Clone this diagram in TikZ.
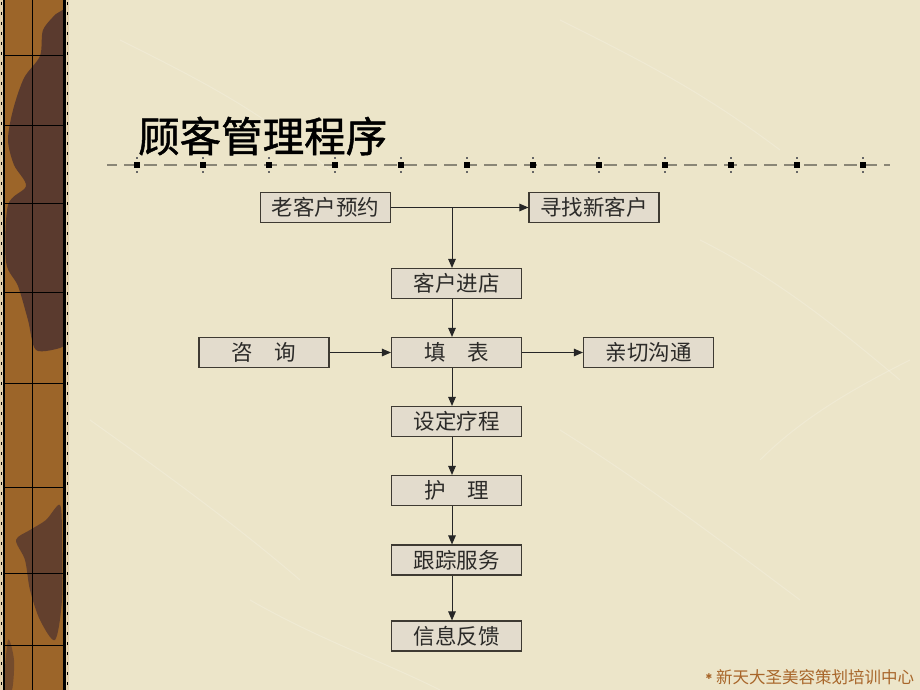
\documentclass[tikz,border=0pt]{standalone}
\usepackage{fontspec}
\newfontfamily\cjk{Noto Sans CJK SC}
\newfontfamily\cjktitle[FakeBold=1.2]{Noto Sans CJK SC}
\newfontfamily\symfont{DejaVu Sans}
\usetikzlibrary{arrows.meta}
\definecolor{bgc}{HTML}{ECE5C9}
\definecolor{boxfill}{HTML}{E3DCCD}
\definecolor{boxline}{HTML}{3E3A32}
\definecolor{txt}{HTML}{2B2A28}
\definecolor{woodA}{HTML}{9C6529}
\definecolor{woodB}{HTML}{5A3A2E}
\definecolor{foot}{HTML}{A8662A}
\definecolor{dashc}{HTML}{8A8676}
\tikzset{
  flowbox/.style={draw=boxline, line width=1.1pt, fill=boxfill, minimum width=130pt,
    minimum height=30pt, inner sep=0pt, text=txt, font=\cjk\fontsize{21.5}{23}\selectfont},
  arr/.style={draw=black!85, line width=1pt, -{Triangle[length=9pt,width=7.5pt]}},
}
\begin{document}
\begin{tikzpicture}[x=1pt,y=-1pt]
\useasboundingbox (0,0) rectangle (920,690);
\fill[bgc] (0,0) rectangle (920,690);
% faint texture streaks
\begin{scope}[white, opacity=0.2, line width=1pt]
\draw (120,40) .. controls (200,80) and (260,110) .. (330,170);
\draw (560,20) .. controls (640,60) and (700,90) .. (780,150);
\draw (700,240) .. controls (780,280) and (840,330) .. (900,380);
\draw (90,420) .. controls (160,470) and (230,520) .. (300,580);
\draw (560,430) .. controls (640,480) and (720,540) .. (800,600);
\draw (250,600) .. controls (320,640) and (380,660) .. (440,690);
\draw (760,460) .. controls (800,420) and (850,390) .. (910,360);
\end{scope}
% left wooden strip
\fill[bgc!80!brown] (0,0) rectangle (69,690);
\fill[woodA] (4,0) rectangle (64,690);
\begin{scope}
\clip (4,0) rectangle (64,690);
\fill[woodB] (66,8) -- plot[smooth] coordinates {(56,14) (43,30) (40,56) (24,78) (13,110) (8,140) (14,165) (26,186) (8,205) (6,262) (18,286) (28,320) (36,350) (60,348)} -- (66,345) -- cycle;
\fill[woodB, opacity=0.85] plot[smooth cycle] coordinates {(60,505) (46,520) (30,530) (16,540) (25,560) (30,590) (40,620) (55,640) (62,600) (62,540)};
\fill[woodB, opacity=0.6] plot[smooth cycle] coordinates {(8,640) (14,660) (12,690) (4,690)};
\end{scope}
\draw[black, line width=2.2pt] (4,-2) -- (4,692);
\draw[black, line width=2.2pt] (64.5,-2) -- (64.5,692);
\draw[black, line width=0.8pt] (32.5,0) -- (32.5,690);
\foreach \yy in {55,125,203,292,383,487,573,645}
  \draw[black, line width=0.9pt] (4,\yy) -- (64,\yy);
\draw[black, line width=1.3pt, dash pattern=on 3pt off 7pt] (1.2,2) -- (1.2,690);
\draw[black, line width=1.3pt, dash pattern=on 3pt off 7pt] (67.5,2) -- (67.5,690);
% title
\node[anchor=west, inner sep=0pt, text=black, font=\cjktitle\fontsize{41.5}{43}\selectfont] (title) at (138,136) {顾客管理程序};
% dashed rule with squares
\draw[dashc, line width=2pt, dash pattern=on 13pt off 7pt, dash phase=3pt] (107,165) -- (890,165);
\foreach \k in {0,...,11}{
  \fill[black] (137+66*\k-3,162) rectangle (137+66*\k+3,168);
  \fill[black!60] (137+66*\k-0.6,157) rectangle (137+66*\k+0.6,159);
  \fill[black!60] (137+66*\k-0.6,171) rectangle (137+66*\k+0.6,173);
}
% boxes
\node[flowbox] (old) at (325.5,207.5) {老客户预约};
\node[flowbox] (new) at (594,207.5) {寻找新客户};
\node[flowbox] (enter) at (456.5,283.5) {客户进店};
\node[flowbox] (ask) at (264,352.5) {咨\hspace{1em}询};
\node[flowbox] (form) at (456.5,352.5) {填\hspace{1em}表};
\node[flowbox] (talk) at (648.5,352.5) {亲切沟通};
\node[flowbox] (plan) at (456.5,421.5) {设定疗程};
\node[flowbox] (care) at (456.5,490.5) {护\hspace{1em}理};
\node[flowbox] (follow) at (456.5,560) {跟踪服务};
\node[flowbox] (feed) at (456.5,636) {信息反馈};
% connectors
\coordinate (split) at ([xshift=-4.5pt]enter.north |- old.east);
\draw[arr] (old.east) -- (new.west);
\draw[arr] (split) -- ([xshift=-4.5pt]enter.north);
\draw[arr] ([xshift=-4.5pt]enter.south) -- ([xshift=-4.5pt]form.north);
\draw[arr] (ask.east) -- (form.west);
\draw[arr] (form.east) -- (talk.west);
\draw[arr] ([xshift=-4.5pt]form.south) -- ([xshift=-4.5pt]plan.north);
\draw[arr] ([xshift=-4.5pt]plan.south) -- ([xshift=-4.5pt]care.north);
\draw[arr] ([xshift=-4.5pt]care.south) -- ([xshift=-4.5pt]follow.north);
\draw[arr] ([xshift=-4.5pt]follow.south) -- ([xshift=-4.5pt]feed.north);
% footer
\node[inner sep=0pt, text=foot, font=\symfont\fontsize{8}{9}\selectfont] (bullet) at (709,677) {✱};
\node[anchor=west, inner sep=0pt, text=foot, font=\cjk\fontsize{16.5}{18}\selectfont] (footer) at (716,677) {新天大圣美容策划培训中心};
\end{tikzpicture}
\end{document}
